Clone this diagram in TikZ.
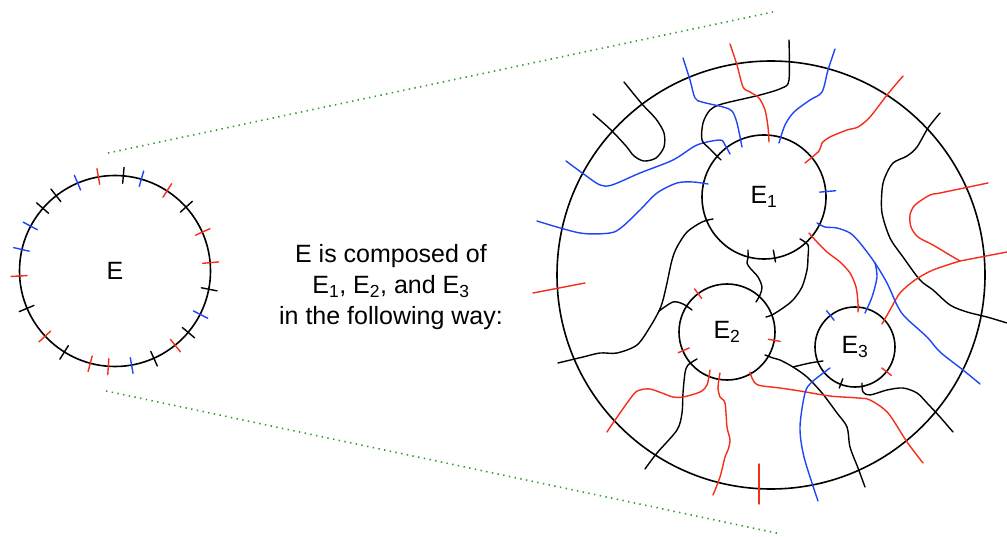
\documentclass[tikz,border=0pt]{standalone}
\usepackage{fontspec}
\setmainfont{Liberation Sans}
\usetikzlibrary{calc}
\definecolor{tred}{RGB}{245,45,25}
\definecolor{tblue}{RGB}{30,70,245}
\definecolor{zgreen}{RGB}{40,160,40}

\begin{document}
\begin{tikzpicture}[x=1pt,y=-1pt,
  every node/.style={font=\fontsize{25}{31}\selectfont},
  disc/.style={draw,circle,line width=1.6pt,inner sep=0pt},
  strand/.style={line width=1.4pt,line cap=round,line join=round},
  redstrand/.style={strand,tred},
  bluestrand/.style={strand,tblue},
  zoomline/.style={zgreen,line width=1.6pt,dash pattern=on 1.4pt off 4.4pt}
]
  \useasboundingbox (0,0) rectangle (1007,537);

  % small disc E with its ends
  \node[disc,minimum size=191pt] (E) at (115,271) {E};
  \foreach \a/\c in {85/black,74/tblue,100/tred,113/tblue,128/black,
      139/black,152/tblue,167/tblue,183/tred,203/black,223/tred,238/black,
      255/tred,266/tred,280/tblue,294/black,309/tred,320/black,333/tblue,
      349/black,5/tred,24/tred,42/black,57/tred}
    \draw[strand,\c] ($(E.center)+(\a:88pt)$) -- ($(E.center)+(\a:104pt)$);

  % zoom lines
  \draw[zoomline] (108,153) -- (773,12);
  \draw[zoomline] (106,391) -- (781,534);

  % caption
  \node[align=center] (caption) at (391,287)
    {E is composed of\\
     E\textsubscript{1}, E\textsubscript{2}, and E\textsubscript{3}\\
     in the following way:};

  % big disc and the pieces
  \node[disc,minimum size=428pt] (big) at (771,275) {};
  \node[disc,minimum size=124pt] (E1) at (764,197) {E\textsubscript{1}};
  \node[disc,minimum size=96pt]  (E2) at (727,332) {E\textsubscript{2}};
  \node[disc,minimum size=80pt]  (E3) at (855,347) {E\textsubscript{3}};

  % strands at the top
  \draw[strand] plot[smooth] coordinates {(593,114) (610,129) (626,146)
    (634,156) (644,161) (656,158) (664,147) (664,133) (656,119) (642,104)
    (624,82)};
  \draw[bluestrand] plot[smooth] coordinates {(566,161) (585,175) (600,185)
    (612,185) (640,173) (673,160) (697,145) (720,140) (725,145) (730,154)};
  \draw[bluestrand] plot[smooth] coordinates {(537,221) (580,233) (610,233)
    (622,227) (640,210) (657,193) (677,183) (693,182) (708,184)};
  \draw[strand] plot[smooth] coordinates {(789,40) (789,80) (782,88)
    (760,95) (722,104) (710,110) (703,123) (702,140) (710,149) (721,160)};
  \draw[bluestrand] plot[smooth] coordinates {(683,58) (690,80) (695,98)
    (702,102) (723,107) (732,111) (737,123) (742,147)};
  \draw[redstrand] plot[smooth] coordinates {(730,44) (737,65) (743,87)
    (750,92) (759,98) (765,110) (768,127) (769,142)};
  \draw[bluestrand] plot[smooth] coordinates {(835,49) (828,70) (822,92)
    (810,100) (794,112) (785,125) (779,143)};
  \draw[redstrand] plot[smooth] coordinates {(903,76) (887,95) (870,117)
    (858,127) (847,130) (830,137) (822,143) (819,151) (805,163)};

  % strands at the right
  \draw[strand] plot[smooth] coordinates {(940,113) (928,128) (917,147)
    (907,156) (893,163) (885,177) (882,190) (882,213) (890,238) (903,257)
    (920,280) (933,290) (950,305) (967,312) (987,317) (1007,323)};
  \draw[redstrand] plot[smooth] coordinates {(988,183) (940,193) (930,195)
    (915,205) (910,215) (911,227) (918,237) (933,245) (948,254) (960,261)}
    -- (1007,252);
  \draw[redstrand] plot[smooth] coordinates {(882,324) (890,310) (900,293)
    (915,280) (933,270) (960,261)};
  \draw[bluestrand] plot[smooth] coordinates {(817,223) (825,227) (837,228)
    (850,233) (860,243) (875,263) (887,283) (897,305) (905,317) (927,337)
    (940,352) (963,370) (980,384)};
  \draw[bluestrand] plot[smooth] coordinates {(875,263) (877,277) (872,297)
    (865,313)};
  \draw[redstrand] plot[smooth] coordinates {(809,233) (817,242) (827,252)
    (840,262) (850,273) (856,287) (858,303) (858,312)};

  % strands between the pieces
  \draw[strand] plot[smooth] coordinates {(800,239) (808,245) (808,257)
    (807,270) (802,287) (793,300) (783,308) (772,315) (766,317)};
  \draw[strand] plot[smooth] coordinates {(748,250) (748,258) (747,263)
    (750,268) (758,277) (762,287) (760,295) (756,302)};
  \draw[strand] plot[smooth] coordinates {(713,219) (702,222) (687,232)
    (677,247) (672,260) (667,283) (663,300) (659,311) (650,327) (637,345)
    (617,353) (600,353) (583,357) (558,363)};
  \draw[strand] plot[smooth] coordinates {(659,311) (673,302) (683,304)
    (692,310)};
  \draw[strand] plot[smooth] coordinates {(765,355) (773,358) (780,360)
    (793,367) (807,377) (822,393) (837,413) (847,427) (850,447) (858,468)
    (865,487)};
  \draw[strand] plot[smooth] coordinates {(823,361) (810,363) (793,367)};

  % strands at the bottom
  \draw[strand] plot[smooth] coordinates {(697,359) (688,365) (685,373)
    (683,393) (682,413) (677,430) (657,453) (645,469)};
  \draw[redstrand] plot[smooth] coordinates {(710,370) (707,385) (700,392)
    (683,397) (673,397) (662,393) (650,389) (640,390) (633,395) (613,423)
    (607,432)};
  \draw[redstrand] plot[smooth] coordinates {(720,373) (718,387) (720,397)
    (725,403) (727,427) (730,440) (728,450) (725,457) (720,477) (713,495)};
  \draw[redstrand] plot[smooth] coordinates {(750,372) (752,378) (758,385)
    (780,388) (800,391) (830,396) (858,398) (870,400) (888,413) (907,442)
    (923,463)};
  \draw[bluestrand] plot[smooth] coordinates {(830,368) (812,382) (805,393)
    (800,427) (804,457) (818,501)};
  \draw[strand] plot[smooth] coordinates {(862,383) (863,392) (870,395)
    (887,390) (903,388) (917,393) (927,403) (940,417) (953,432)};

  % short ends
  \draw[redstrand] (533,293) -- (585,283);
  \draw[redstrand] (759,464) -- (759,504);
  \draw[bluestrand] ($(E1.center)+(5:56pt)$) -- ($(E1.center)+(5:72pt)$);
  \draw[strand] ($(E1.center)+(-80:54pt)$) -- ($(E1.center)+(-80:66pt)$);
  \draw[redstrand] ($(E2.center)+(127:42pt)$) -- ($(E2.center)+(127:54pt)$);
  \draw[redstrand] ($(E2.center)+(203:41pt)$) -- ($(E2.center)+(203:53pt)$);
  \draw[redstrand] ($(E2.center)+(-10:42pt)$) -- ($(E2.center)+(-10:54pt)$);
  \draw[redstrand] ($(E3.center)+(-38:34pt)$) -- ($(E3.center)+(-38:46pt)$);
  \draw[bluestrand] ($(E3.center)+(128:34pt)$) -- ($(E3.center)+(128:46pt)$);
  \draw[strand] ($(E3.center)+(-111:34pt)$) -- ($(E3.center)+(-111:44pt)$);
\end{tikzpicture}
\end{document}
